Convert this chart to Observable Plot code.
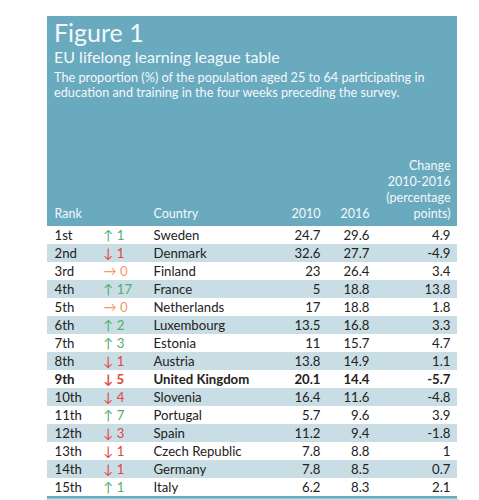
<!DOCTYPE html>
<html>
<head>
<meta charset="utf-8">
<script src="https://cdn.jsdelivr.net/npm/d3@7"></script>
<script src="https://cdn.jsdelivr.net/npm/@observablehq/plot@0.6"></script>
<style>
  body { margin: 0; background: #fff; font-family: Lato, "Noto Sans", sans-serif; }
  #panel { position: absolute; left: 47px; top: 16px; width: 410px; background: #6aaabf; color: #f3f8fa; }
  #head { height: 124px; padding: 1px 0 0 7px; box-sizing: border-box; }
  #head .fig { font-size: 25px; line-height: 30px; }
  #head .title { font-size: 16px; line-height: 20px; }
  #head .sub { font-size: 12.7px; line-height: 15px; margin-top: 3px; }
  #panel svg { display: block; }
</style>
</head>
<body>
<div id="panel">
  <div id="head">
    <div class="fig">Figure 1</div>
    <div class="title">EU lifelong learning league table</div>
    <div class="sub">The proportion (%) of the population aged 25 to 64 participating in<br>education and training in the four weeks preceding the survey.</div>
  </div>
  <div id="chart"></div>
</div>
<script>
const ranks = ["1st","2nd","3rd","4th","5th","6th","7th","8th","9th","10th","11th","12th","13th","14th","15th"];
const moves = [1, -1, 0, 17, 0, 2, 3, -1, -5, -4, 7, -3, -1, -1, 1];
const countries = ["Sweden","Denmark","Finland","France","Netherlands","Luxembourg","Estonia","Austria","United Kingdom","Slovenia","Portugal","Spain","Czech Republic","Germany","Italy"];
const v2010 = [24.7, 32.6, 23, 5, 17, 13.5, 11, 13.8, 20.1, 16.4, 5.7, 11.2, 7.8, 7.8, 6.2];
const v2016 = [29.6, 27.7, 26.4, 18.8, 18.8, 16.8, 15.7, 14.9, 14.4, 11.6, 9.6, 9.4, 8.8, 8.5, 8.3];
const change = [4.9, -4.9, 3.4, 13.8, 1.8, 3.3, 4.7, 1.1, -5.7, -4.8, 3.9, -1.8, 1, 0.7, 2.1];
const highlight = "United Kingdom";

const rows = ranks.map((r, i) => ({
  rank: r,
  move: moves[i],
  dir: moves[i] > 0 ? "up" : moves[i] < 0 ? "down" : "same",
  moveText: (moves[i] > 0 ? "↑ " : moves[i] < 0 ? "↓ " : "→ ") + Math.abs(moves[i]),
  country: countries[i],
  a: String(v2010[i]),
  b: String(v2016[i]),
  c: String(change[i]),
  i
}));

// column layout: offset from the left edge and text alignment
const cols = [
  {key: "rank", head: "Rank", dx: 7, anchor: "start"},
  {key: "moveText", head: "", dx: 56, anchor: "start", color: true},
  {key: "country", head: "Country", dx: 106, anchor: "start"},
  {key: "a", head: "2010", dx: 273, anchor: "end"},
  {key: "b", head: "2016", dx: 322, anchor: "end"},
  {key: "c", head: "Change\n2010-2016\n(percentage\npoints)", dx: 403, anchor: "end"}
];

const textMarks = cols.flatMap(c => [false, true].map(bold => Plot.text(rows, {
  y: "rank",
  text: c.key,
  filter: d => (d.country === highlight) === bold,
  frameAnchor: "left",
  dx: c.dx,
  textAnchor: c.anchor,
  fill: c.color ? "dir" : "#222222",
  fontSize: 13.2,
  fontWeight: bold ? "bold" : "normal"
})));

const headMarks = cols.filter(c => c.head).map(c => Plot.text([c.head], {
  text: d => d,
  frameAnchor: "top-left",
  dx: c.dx,
  dy: -7,
  lineAnchor: "bottom",
  lineHeight: 1.27,
  textAnchor: c.anchor,
  fill: "#f3f8fa",
  fontSize: 12.5
}));

const chart = Plot.plot({
  width: 410,
  height: 360,
  marginTop: 84,
  marginBottom: 2,
  marginLeft: 0,
  marginRight: 0,
  style: {fontFamily: "Lato, 'Noto Sans', sans-serif", background: "transparent", overflow: "visible"},
  y: {type: "band", domain: ranks, padding: 0, axis: null},
  color: {domain: ["up", "down", "same"], range: ["#4fae6c", "#e0463c", "#f39a62"]},
  marks: [
    Plot.cell(rows, {y: "rank", fill: "#ffffff", filter: d => d.i % 2 === 0, inset: 0}),
    Plot.cell(rows, {y: "rank", fill: "#c9dde5", filter: d => d.i % 2 === 1, inset: 0}),
    Plot.frame({anchor: "bottom", stroke: "#c9dde5", strokeWidth: 2, dy: 1}),
    ...textMarks,
    ...headMarks
  ]
});
document.getElementById("chart").append(chart);
</script>
</body>
</html>
